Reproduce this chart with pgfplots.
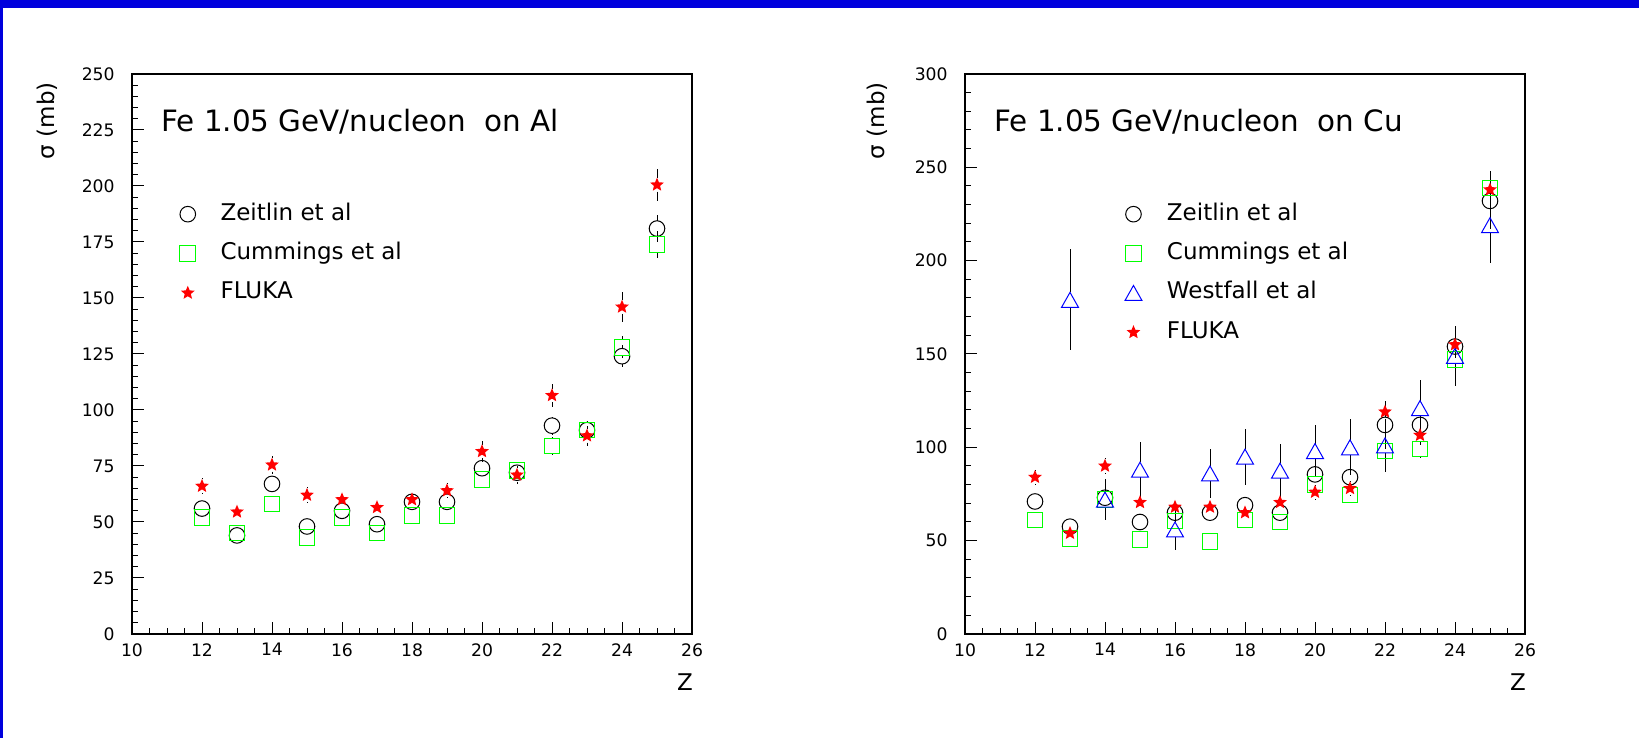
\documentclass[border=0pt]{standalone}
\usepackage{fontspec}
\setmainfont{DejaVu Sans}
\usepackage{pgfplots}
\usepackage{pgfplotstable}
\pgfplotsset{compat=1.18}
\usetikzlibrary{calc}
\definecolor{frameblue}{RGB}{0,0,221}
\definecolor{rgreen}{RGB}{0,255,0}
\definecolor{rblue}{RGB}{0,0,255}
\definecolor{rred}{RGB}{255,0,0}

\pgfdeclareplotmark{fstar}{%
  \pgfpathmoveto{\pgfpointpolar{90}{\pgfplotmarksize}}%
  \pgfpathlineto{\pgfpointpolar{126}{0.45\pgfplotmarksize}}%
  \pgfpathlineto{\pgfpointpolar{162}{\pgfplotmarksize}}%
  \pgfpathlineto{\pgfpointpolar{198}{0.45\pgfplotmarksize}}%
  \pgfpathlineto{\pgfpointpolar{234}{\pgfplotmarksize}}%
  \pgfpathlineto{\pgfpointpolar{270}{0.45\pgfplotmarksize}}%
  \pgfpathlineto{\pgfpointpolar{306}{\pgfplotmarksize}}%
  \pgfpathlineto{\pgfpointpolar{342}{0.45\pgfplotmarksize}}%
  \pgfpathlineto{\pgfpointpolar{18}{\pgfplotmarksize}}%
  \pgfpathlineto{\pgfpointpolar{54}{0.45\pgfplotmarksize}}%
  \pgfpathclose
  \pgfusepathqfill}
\pgfdeclareplotmark{rtri}{%
  \pgfpathmoveto{\pgfpoint{0pt}{\pgfplotmarksize}}%
  \pgfpathlineto{\pgfpoint{-1.13\pgfplotmarksize}{-\pgfplotmarksize}}%
  \pgfpathlineto{\pgfpoint{1.13\pgfplotmarksize}{-\pgfplotmarksize}}%
  \pgfpathclose
  \pgfusepathqstroke}

% Z  sigma  error
\pgfplotstableread{
Z y e
12 56 2.5
13 44 2
14 67 3
15 48 2
16 55 2.5
17 49 2
18 59 2.5
19 59 2.5
20 74 3
21 72 3
22 93 4
23 91 4
24 124 5
25 181 6
}\alZeitlin
\pgfplotstableread{
Z y e
12 52 2
13 45 2
14 58 2.5
15 43 2
16 52 2
17 45 2
18 53 2
19 53 2
20 69 3
21 73 3
22 84 4
23 91 4
24 128 5
25 174 6
}\alCummings
\pgfplotstableread{
Z y e
12 66 3.5
13 54.5 3
14 75.5 4
15 62 3.5
16 60 3
17 56.5 3
18 60 3
19 64 3.5
20 81.5 4.5
21 71 4
22 106.5 5
23 88.5 4.5
24 146 6.5
25 200.5 7
}\alFluka
\pgfplotstableread{
Z y e
12 71 3
13 57.5 3
14 73 3
15 60 3
16 65 3
17 65 3
18 69 3
19 65 3
20 85.5 4
21 84 4
22 112 13
23 112 5
24 154 6
25 232 15
}\cuZeitlin
\pgfplotstableread{
Z y e
12 61 2.5
13 51 2.5
14 72 3
15 50.5 2.5
16 60.5 3
17 49.5 2.5
18 61 3
19 60 3
20 80 3.5
21 74.5 3.5
22 98 4
23 99 4.5
24 147 6
25 239 9
}\cuCummings
\pgfplotstableread{
Z y e
13 179 27
14 72 11
15 88 15
16 56 11
17 86 13
18 95 15
19 87.5 14.5
20 98 14
21 100 15
22 101 14
23 121 15
24 149 16
25 219 20
}\cuWestfall
\pgfplotstableread{
Z y e
12 84 4
13 54 3
14 90 4.5
15 70.5 3.5
16 68 3.5
17 68 3.5
18 65 3.5
19 70.5 3.5
20 76 4
21 78 4
22 119 5.5
23 106.5 5
24 155 6
25 238 8
}\cuFluka

\pgfplotsset{
  gapbar/.style={error bars/draw error bar/.code 2 args={%
    \path ##1 coordinate (ebA) ##2 coordinate (ebB);
    \path[/pgfplots/every error bar, draw]
      let \p1=($(ebB)-(ebA)$),
          \n1={min(#1pt,veclen(\x1,\y1))} in
      ($(ebA)!\n1!(ebB)$) -- (ebB);}},
  rootaxis/.style={
    scale only axis, width=280pt, height=280pt,
    xmin=10, xmax=26,
    xtick={10,12,...,26}, minor x tick num=3,
    tick align=inside, xtick pos=bottom, ytick pos=left,
    major tick length=6pt, minor tick length=3pt,
    axis line style={line width=0.6pt},
    every tick/.style={black, line width=0.5pt},
    /pgf/number format/assume math mode=true,
    ticklabel style={font=\fontsize{8.6}{9.5}\selectfont},
    yticklabel style={inner sep=0pt, xshift=-8.5pt},
    xticklabel style={inner sep=0pt, yshift=-4.5pt},
    xlabel={Z},
    xlabel style={at={(axis description cs:0.9875,-0.0857)}, anchor=center, font=\fontsize{11.5}{13}\selectfont},
    ylabel={σ (mb)},
    ylabel style={anchor=east, font=\fontsize{11.5}{13}\selectfont},
    legend image code/.code={\draw[#1] plot coordinates {(0pt,0pt)};},
    legend cell align=left,
    legend style={draw=none, fill=none, inner sep=0pt, outer sep=0pt,
      font=\fontsize{11.5}{13}\selectfont,
      nodes={inner sep=0pt, text height=8.5pt, text depth=2.5pt},
      row sep=8.7pt, column sep=12.5pt, anchor=north west},
    error bars/y dir=both, error bars/y explicit,
    error bars/error mark=none,
    error bars/error bar style={black, line width=0.5pt},
  },
  zeit/.style={only marks, mark=o, mark size=3.9pt, black, mark options={line width=0.5pt}, gapbar=3.9},
  cumm/.style={only marks, mark=square, mark size=3.9pt, rgreen, mark options={line width=0.5pt}, gapbar=3.9},
  west/.style={only marks, mark=rtri, mark size=3.75pt, rblue, mark options={line width=0.5pt}, gapbar=3.75},
  fluk/.style={only marks, mark=fstar, mark size=3.6pt, rred, mark options={fill=rred}, gapbar=3.4},
}

\begin{document}
\begin{tikzpicture}
\useasboundingbox (0,0) rectangle (819.5pt,369pt);
\fill[white] (0,0) rectangle (819.5pt,369pt);
\fill[frameblue] (0,365pt) rectangle (819.5pt,369pt);
\fill[frameblue] (0,0) rectangle (1.5pt,369pt);

\begin{axis}[rootaxis, at={(66pt,52pt)},
    ymin=0, ymax=250, ytick={0,25,...,250}, minor y tick num=4,
    ylabel style={at={(axis description cs:-0.1518,0.998)}},
    legend style={at={(axis description cs:0.0857,0.7693)}}]
  \addplot+[zeit] table[x=Z, y=y, y error=e] {\alZeitlin};
  \addlegendentry{Zeitlin et al}
  \addplot+[cumm] table[x=Z, y=y, y error=e] {\alCummings};
  \addlegendentry{Cummings et al}
  \addplot+[fluk] table[x=Z, y=y, y error=e] {\alFluka};
  \addlegendentry{FLUKA}
  \node[anchor=base west, font=\fontsize{14.7}{16}\selectfont, inner sep=0pt]
    at (rel axis cs:0.0518,0.8982) {Fe 1.05 GeV/nucleon\ \ on Al};
\end{axis}

\begin{axis}[rootaxis, at={(482.5pt,52pt)},
    ymin=0, ymax=300, ytick={0,50,...,300}, minor y tick num=4,
    ylabel style={at={(axis description cs:-0.157,0.998)}},
    legend style={at={(axis description cs:0.2857,0.7693)}}]
  \addplot+[zeit] table[x=Z, y=y, y error=e] {\cuZeitlin};
  \addlegendentry{Zeitlin et al}
  \addplot+[cumm] table[x=Z, y=y, y error=e] {\cuCummings};
  \addlegendentry{Cummings et al}
  \addplot+[west] table[x=Z, y=y, y error=e] {\cuWestfall};
  \addlegendentry{Westfall et al}
  \addplot+[fluk] table[x=Z, y=y, y error=e] {\cuFluka};
  \addlegendentry{FLUKA}
  \node[anchor=base west, font=\fontsize{14.7}{16}\selectfont, inner sep=0pt]
    at (rel axis cs:0.0518,0.8982) {Fe 1.05 GeV/nucleon\ \ on Cu};
\end{axis}
\end{tikzpicture}
\end{document}
